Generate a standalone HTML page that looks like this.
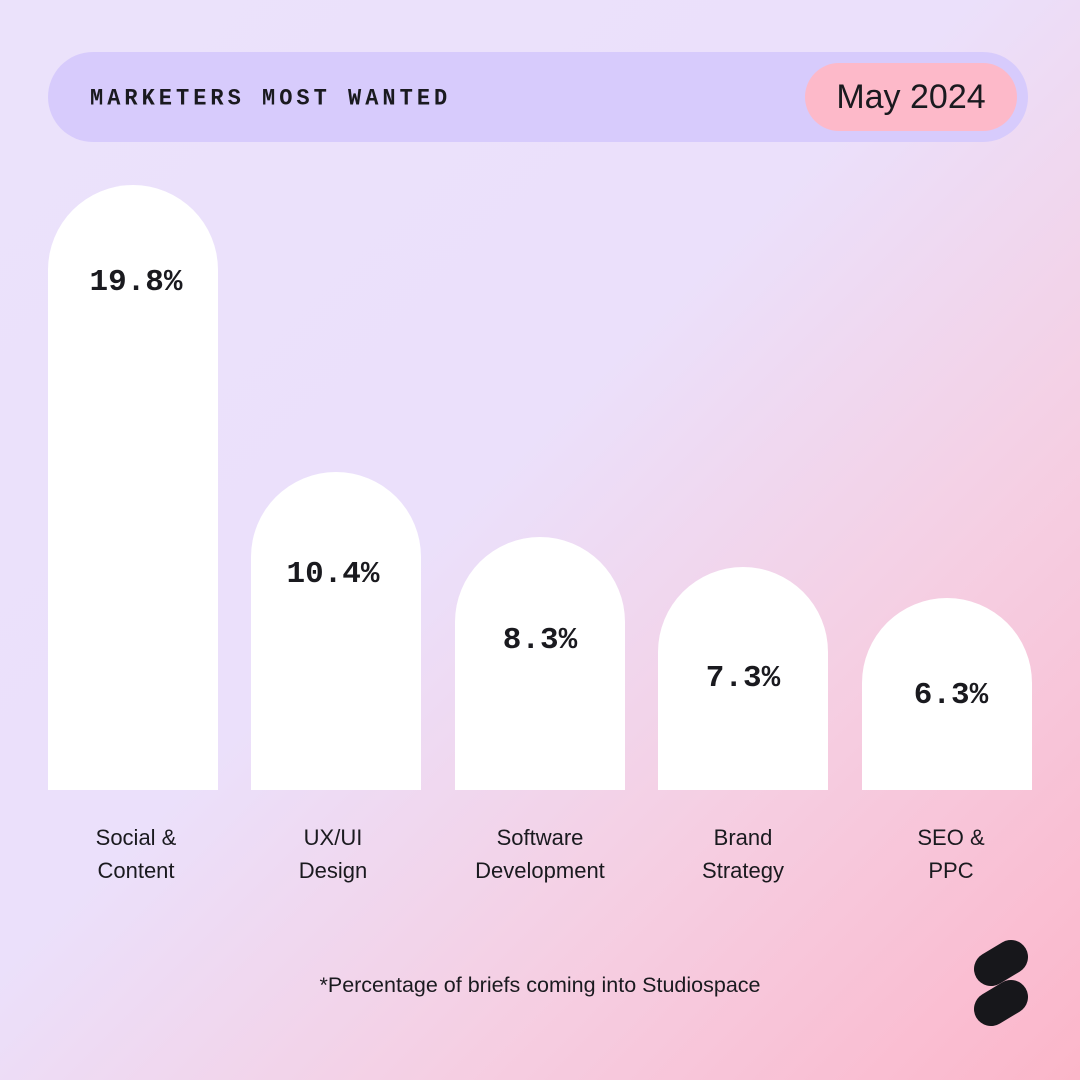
<!DOCTYPE html>
<html><head><style>
*{margin:0;padding:0}
body{width:1080px;height:1080px;overflow:hidden;position:relative;font-family:"Liberation Sans",sans-serif;
background:linear-gradient(135deg,#ebe2fb 0%,#ebe0fb 45%,#f5cfe3 70%,#fcb6ca 100%);}
.hdr{position:absolute;left:48px;top:52px;width:980px;height:90px;border-radius:45px;background:#d7cbfc}
.ttl{position:absolute;left:42px;top:34px;font-family:"Liberation Mono",monospace;font-weight:bold;font-size:22px;letter-spacing:4px;color:#1a1a1f;transform:scaleY(1.05)}
.pill{position:absolute;left:757px;top:11px;width:212px;height:68px;border-radius:34px;background:#fdb9c9;font-size:34px;color:#1a1a1f;text-align:center;line-height:68px}
.bar{position:absolute;width:170px;bottom:290px;background:#fff;border-radius:85px 85px 0 0}
.v{position:absolute;width:170px;text-align:center;font-family:"Liberation Mono",monospace;font-weight:bold;font-size:31px;color:#1a1a1f}
.l{position:absolute;width:230px;text-align:center;font-size:22px;line-height:33px;color:#1a1a1f;top:821px}
.f{position:absolute;left:0;width:1080px;text-align:center;top:973px;font-size:21.5px;color:#1a1a1f}
</style></head><body>
<div class="hdr"><div class="ttl">MARKETERS MOST WANTED</div><div class="pill">May 2024</div></div>
<div class="bar" style="left:48px;top:185px"></div>
<div class="bar" style="left:251px;top:472px"></div>
<div class="bar" style="left:455px;top:537px"></div>
<div class="bar" style="left:658px;top:567px"></div>
<div class="bar" style="left:862px;top:598px"></div>
<div class="v" style="left:51px;top:265px">19.8%</div>
<div class="v" style="left:248px;top:557px">10.4%</div>
<div class="v" style="left:455px;top:623px">8.3%</div>
<div class="v" style="left:658px;top:661px">7.3%</div>
<div class="v" style="left:866px;top:678px">6.3%</div>
<div class="l" style="left:21px">Social &amp;<br>Content</div>
<div class="l" style="left:218px">UX/UI<br>Design</div>
<div class="l" style="left:425px">Software<br>Development</div>
<div class="l" style="left:628px">Brand<br>Strategy</div>
<div class="l" style="left:836px">SEO &amp;<br>PPC</div>
<div class="f">*Percentage of briefs coming into Studiospace</div>
<svg style="position:absolute;left:965px;top:935px" width="75" height="100">
<line x1="26" y1="34" x2="46" y2="22" stroke="#17171b" stroke-width="34" stroke-linecap="round"/>
<line x1="26" y1="74" x2="46" y2="62" stroke="#17171b" stroke-width="34" stroke-linecap="round"/>
</svg>
</body></html>
